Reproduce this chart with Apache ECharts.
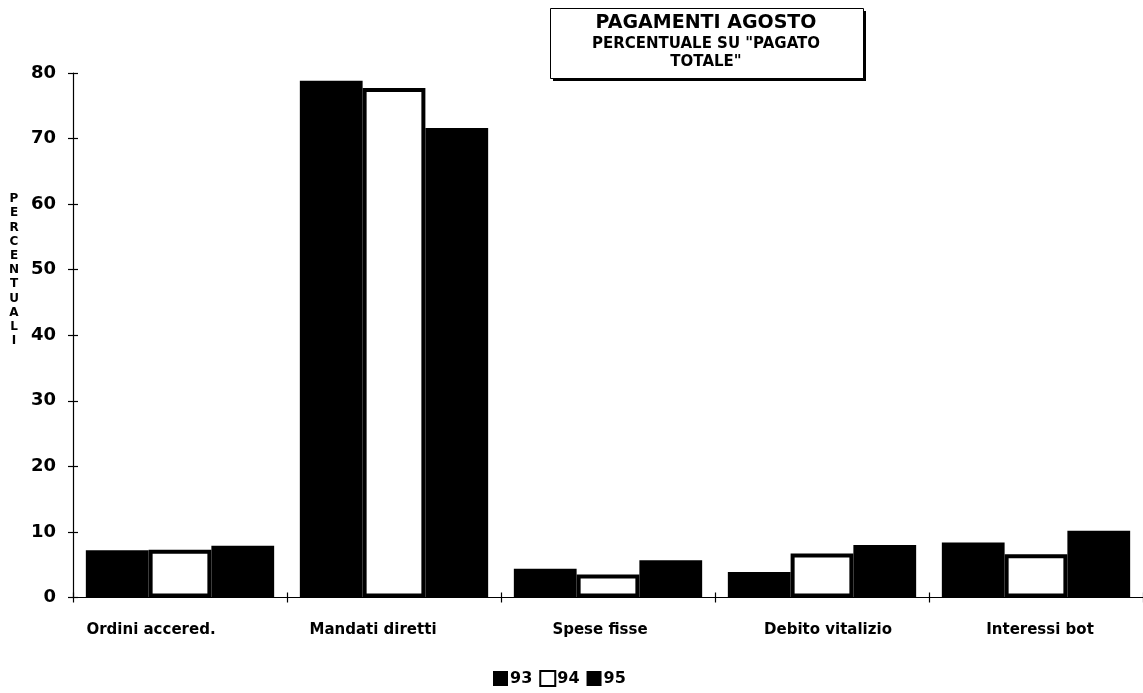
<!DOCTYPE html>
<html>
<head>
<meta charset="utf-8">
<script src="https://cdn.jsdelivr.net/npm/echarts@6/dist/echarts.min.js"></script>
<style>
html,body{margin:0;padding:0;background:#fff;}
#chart{width:1143px;height:693px;}
</style>
</head>
<body>
<div id="chart"></div>
<script>
const categories = ['Ordini accered.', 'Mandati diretti', 'Spese fisse', 'Debito vitalizio', 'Interessi bot'];
const seriesNames = ['93', '94', '95'];
const values93 = [7.2, 78.8, 4.4, 3.9, 8.4];
const values94 = [7.3, 77.7, 3.5, 6.7, 6.6];
const values95 = [7.9, 71.6, 5.7, 8.0, 10.2];
const yTicks = { min: 0, max: 80, interval: 10 };
const titleText = 'PAGAMENTI AGOSTO';
const subtitleLines = ['PERCENTUALE SU "PAGATO', 'TOTALE"'];
const yAxisTitle = 'PERCENTUALI';

const FONT = '"DejaVu Sans", "Liberation Sans", Arial, sans-serif';
const chart = echarts.init(document.getElementById('chart'), null, { renderer: 'canvas' });

// per-label horizontal nudges (px) to mimic the original's label placement
const labelShift = [-29, -21, -8, 6, 4];
const labelRich = {};
labelShift.forEach((d, i) => {
  labelRich['l' + i] = {
    fontFamily: FONT, fontWeight: 'bold', fontSize: 15, color: '#000',
    padding: d < 0 ? [0, -2 * d, 0, 0] : [0, 0, 0, 2 * d]
  };
});

const tickStyle = { color: '#000', width: 1.2 };

chart.setOption({
  animation: false,
  backgroundColor: '#fff',
  graphic: [
    { type: 'rect', shape: { x: 553, y: 11, width: 313, height: 70 }, style: { fill: '#000' }, z: 10 },
    { type: 'rect', shape: { x: 550.5, y: 8.5, width: 313, height: 70 }, style: { fill: '#fff', stroke: '#000', lineWidth: 1 }, z: 11 },
    { type: 'text', x: 706, y: 23.5, style: { text: titleText, align: 'center', verticalAlign: 'middle', font: 'bold 19px ' + FONT, fill: '#000' }, z: 12 },
    { type: 'text', x: 706, y: 44, style: { text: subtitleLines[0], align: 'center', verticalAlign: 'middle', font: 'bold 15px ' + FONT, fill: '#000' }, z: 12 },
    { type: 'text', x: 706, y: 62, style: { text: subtitleLines[1], align: 'center', verticalAlign: 'middle', font: 'bold 15px ' + FONT, fill: '#000' }, z: 12 },
    { type: 'text', x: 14, y: 270, style: { text: yAxisTitle.split('').join('\n'), align: 'center', verticalAlign: 'middle', font: 'bold 12px ' + FONT, lineHeight: 14.2, fill: '#000' }, z: 12 }
  ],
  legend: {
    data: seriesNames,
    bottom: 1,
    left: 488,
    icon: 'rect',
    itemWidth: 15,
    itemHeight: 15,
    itemGap: 7,
    textStyle: { fontFamily: FONT, fontWeight: 'bold', fontSize: 16, color: '#000', padding: [0, 0, 0, -3] }
  },
  grid: { left: 73, right: -4, top: 73, bottom: 95.5, containLabel: false },
  xAxis: [
    {
      type: 'category',
      data: categories,
      position: 'bottom',
      axisLine: { show: true, lineStyle: tickStyle },
      axisTick: { show: true, inside: false, length: 5, lineStyle: tickStyle },
      axisLabel: {
        margin: 25,
        interval: 0,
        formatter: (v, i) => '{l' + i + '|' + v + '}',
        rich: labelRich
      },
      splitLine: { show: false }
    },
    {
      type: 'category',
      data: categories,
      position: 'bottom',
      axisLine: { show: false },
      axisTick: { show: true, inside: true, length: 5, lineStyle: tickStyle },
      axisLabel: { show: false },
      splitLine: { show: false }
    }
  ],
  yAxis: [
    {
      type: 'value',
      min: yTicks.min,
      max: yTicks.max,
      interval: yTicks.interval,
      axisLine: { show: true, lineStyle: tickStyle },
      axisTick: { show: true, inside: false, length: 5, lineStyle: tickStyle },
      axisLabel: { fontFamily: FONT, fontWeight: 'bold', fontSize: 18, color: '#000', margin: 17 },
      splitLine: { show: false }
    },
    {
      type: 'value',
      min: yTicks.min,
      max: yTicks.max,
      interval: yTicks.interval,
      position: 'left',
      axisLine: { show: false },
      axisTick: { show: true, inside: true, length: 5, lineStyle: tickStyle },
      axisLabel: { show: false },
      splitLine: { show: false }
    }
  ],
  series: [
    {
      name: seriesNames[0], type: 'bar', data: values93,
      barGap: '0%', barCategoryGap: '12%',
      itemStyle: { color: '#000', borderWidth: 0 }
    },
    {
      name: seriesNames[1], type: 'bar', data: values94,
      barGap: '0%', barCategoryGap: '12%',
      itemStyle: { color: '#fff', borderColor: '#000', borderWidth: 4 }
    },
    {
      name: seriesNames[2], type: 'bar', data: values95,
      barGap: '0%', barCategoryGap: '12%',
      itemStyle: { color: '#000', borderWidth: 0 }
    }
  ]
});
</script>
</body>
</html>
